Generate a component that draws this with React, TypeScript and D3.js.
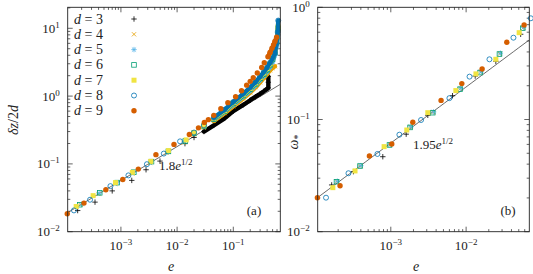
import React from 'react';
import * as d3 from 'd3';

const FONT = 'Liberation Serif, serif';

// series
const dims = [3, 4, 5, 6, 7, 8, 9];
const colors = ['#000000', '#E69F00', '#56B4E9', '#009E73', '#F0E442', '#0072B2', '#D55E00'];

// panel (a): scattered points at small e
const aSparseE = [
  [1.7e-4, 3.46e-4, 7e-4, 1.56e-3, 2.8e-3, 4.96e-3, 0.0138],
  [1.9e-4, 4e-4, 8e-4, 1.6e-3, 3.3e-3, 6.5e-3, 0.013],
  [2e-4, 4.1e-4, 8.3e-4, 1.65e-3, 3.4e-3, 6.8e-3, 0.0135],
  [1.85e-4, 4.2e-4, 8.6e-4, 1.7e-3, 3.5e-3, 7e-3, 0.014],
  [1.6e-4, 3.2e-4, 8e-4, 1.6e-3, 3.4e-3, 7e-3, 0.0145],
  [1.46e-4, 2.82e-4, 6.5e-4, 1.36e-3, 2.9e-3, 5.8e-3, 0.0113],
  [1.11e-4, 2.2e-4, 5.4e-4, 1.08e-3, 2.04e-3, 4.2e-3, 8.8e-3],
];
const aSparseZ = [
  [0.0205, 0.0273, 0.04, 0.0571, 0.082, 0.11, 0.199],
  [0.025, 0.036, 0.051, 0.072, 0.104, 0.145, 0.205],
  [0.0255, 0.037, 0.052, 0.074, 0.107, 0.15, 0.213],
  [0.025, 0.0375, 0.053, 0.0755, 0.108, 0.153, 0.218],
  [0.0235, 0.034, 0.053, 0.075, 0.109, 0.157, 0.226],
  [0.0206, 0.0296, 0.047, 0.0677, 0.099, 0.142, 0.215],
  [0.0184, 0.0264, 0.0416, 0.059, 0.0838, 0.137, 0.194],
];

// panel (a): dense points at large e (they merge into bands)
const aBandE = [
  [0.02, 0.03, 0.045, 0.07, 0.1, 0.15, 0.2, 0.25, 0.3, 0.35, 0.4, 0.42, 0.42, 0.42],
  [0.02, 0.03, 0.045, 0.07, 0.1, 0.15, 0.2, 0.25, 0.3, 0.35, 0.4, 0.45, 0.5, 0.55],
  [0.02, 0.03, 0.045, 0.07, 0.1, 0.15, 0.2, 0.25, 0.3, 0.35, 0.4, 0.45, 0.5, 0.55, 0.59, 0.62],
  [0.02, 0.03, 0.045, 0.07, 0.1, 0.15, 0.2, 0.25, 0.3, 0.35, 0.4, 0.45, 0.5, 0.55, 0.59, 0.625],
  [0.02, 0.03, 0.045, 0.07, 0.1, 0.15, 0.2, 0.25, 0.3, 0.35, 0.4, 0.45, 0.5, 0.55, 0.59, 0.625],
  [0.02, 0.03, 0.045, 0.07, 0.1, 0.15, 0.2, 0.25, 0.3, 0.35, 0.4, 0.45, 0.5, 0.55, 0.59, 0.617, 0.63],
  [0.0165, 0.024, 0.0305, 0.036, 0.045, 0.06, 0.08, 0.11, 0.14, 0.173, 0.2, 0.227, 0.267, 0.32, 0.356, 0.414, 0.45, 0.489, 0.52, 0.55, 0.59],
];
const aBandZ = [
  [0.245, 0.3, 0.37, 0.47, 0.6, 0.74, 0.87, 0.98, 1.08, 1.18, 1.28, 1.32, 1.6, 1.95],
  [0.27, 0.34, 0.43, 0.56, 0.71, 0.92, 1.13, 1.35, 1.6, 1.86, 2.12, 2.4, 2.6, 2.75],
  [0.28, 0.35, 0.45, 0.59, 0.75, 0.98, 1.2, 1.45, 1.72, 2.0, 2.3, 2.7, 3.2, 4.0, 5.5, 8.0],
  [0.285, 0.36, 0.46, 0.6, 0.78, 1.02, 1.26, 1.52, 1.82, 2.12, 2.45, 2.9, 3.5, 4.4, 6.3, 10],
  [0.29, 0.365, 0.47, 0.61, 0.8, 1.05, 1.3, 1.57, 1.88, 2.2, 2.55, 3.0, 3.65, 4.6, 6.6, 10.5],
  [0.29, 0.37, 0.48, 0.63, 0.82, 1.08, 1.34, 1.62, 1.94, 2.28, 2.65, 3.1, 3.6, 4.3, 6.0, 8.8, 13],
  [0.272, 0.34, 0.409, 0.449, 0.52, 0.652, 0.8, 0.98, 1.2, 1.45, 1.65, 1.86, 2.2, 2.65, 3.1, 3.8, 4.4, 5.1, 5.7, 6.4, 7.4],
];
// e from which the dense points of each series merge into a band
const aBandFrom = [0.03, 0.045, 0.045, 0.045, 0.045, 0.045, 0.4];

// panel (b)
const bE = [
  [1.64e-4, 3.19e-4, 7.83e-4, 1.6e-3, 3.1e-3, 6.6e-3, 0.0132, 0.0248, 0.053],
  [1.92e-4, 3.95e-4, 9.7e-4, 1.82e-3, 3.65e-3, 8.4e-3, 0.0155, 0.028, 0.057],
  [1.95e-4, 4e-4, 9.8e-4, 1.85e-3, 3.7e-3, 8.5e-3, 0.0158, 0.0285, 0.058],
  [1.9e-4, 3.9e-4, 9.6e-4, 1.8e-3, 3.6e-3, 8.3e-3, 0.0153, 0.0277, 0.0565],
  [1.7e-4, 3.35e-4, 8.15e-4, 1.63e-3, 3.1e-3, 7.3e-3, 0.0135, 0.0248, 0.0506],
  [1.38e-4, 2.74e-4, 6.64e-4, 1.3e-3, 2.52e-3, 6e-3, 0.0111, 0.0204, 0.0425, 0.0723],
  [1.06e-4, 2.12e-4, 5.2e-4, 1.03e-3, 1.96e-3, 4.65e-3, 8.77e-3, 0.0163, 0.0347, 0.0589],
];
const bW = [
  [0.0261, 0.0343, 0.0466, 0.074, 0.109, 0.163, 0.244, 0.33, 0.575],
  [0.028, 0.0384, 0.0595, 0.0855, 0.116, 0.188, 0.264, 0.385, 0.655],
  [0.0282, 0.0388, 0.0598, 0.086, 0.117, 0.19, 0.266, 0.39, 0.66],
  [0.0279, 0.0385, 0.0593, 0.085, 0.115, 0.186, 0.262, 0.383, 0.65],
  [0.0247, 0.0348, 0.0573, 0.0806, 0.115, 0.181, 0.255, 0.344, 0.594],
  [0.0201, 0.0332, 0.0493, 0.0732, 0.099, 0.155, 0.241, 0.344, 0.536, 0.798],
  [0.0201, 0.0257, 0.0473, 0.0605, 0.0944, 0.148, 0.209, 0.282, 0.488, 0.695],
];

const fitA = 1.8;
const fitB = 1.95;

function logTicks(domain: number[]) {
  const [lo, hi] = domain;
  const out: { v: number; n: number; major: boolean }[] = [];
  for (let n = Math.floor(Math.log10(lo)); n <= Math.ceil(Math.log10(hi)); n++) {
    for (let k = 1; k <= 9; k++) {
      const v = +`${k}e${n}`;
      if (v >= lo * 0.999 && v <= hi * 1.001) out.push({ v, n, major: k === 1 });
    }
  }
  return out;
}

function Marker({ kind, x, y, color }: { kind: number; x: number; y: number; color: string }) {
  const s = 2.7, t = 2.1;
  const plus = [<line key="h" x1={x - s} x2={x + s} y1={y} y2={y} />, <line key="v" x1={x} x2={x} y1={y - s} y2={y + s} />];
  const cross = [<line key="a" x1={x - t} y1={y - t} x2={x + t} y2={y + t} />, <line key="b" x1={x - t} y1={y + t} x2={x + t} y2={y - t} />];
  switch (kind) {
    case 0: return <g stroke={color} strokeWidth={0.8}>{plus}</g>;
    case 1: return <g stroke={color} strokeWidth={0.8}>{cross}</g>;
    case 2: return <g stroke={color} strokeWidth={0.8}>{plus}{cross}</g>;
    case 3: return <rect x={x - 2.3} y={y - 2.3} width={4.6} height={4.6} fill="none" stroke={color} strokeWidth={0.8} />;
    case 4: return <rect x={x - 2.5} y={y - 2.5} width={5} height={5} fill={color} />;
    case 5: return <circle cx={x} cy={y} r={2.5} fill="none" stroke={color} strokeWidth={0.8} />;
    default: return <circle cx={x} cy={y} r={2.7} fill={color} />;
  }
}

function Pow({ n }: { n: number }) {
  return <>10<tspan dy={-5} fontSize={9}>{n < 0 ? `\u2212${-n}` : `${n}`}</tspan></>;
}

type PanelProps = {
  id: string; x0: number; x1: number; y0: number; y1: number;
  xDomain: number[]; yDomain: number[];
  sparseE: number[][]; sparseY: number[][];
  bandE?: number[][]; bandY?: number[][]; bandFrom?: number[];
  fit: number; fitText: string; fitX: number; fitY: number;
  letter: string; letterX: number;
};

function Panel(p: PanelProps) {
  const x = d3.scaleLog().domain(p.xDomain).range([p.x0, p.x1]);
  const y = d3.scaleLog().domain(p.yDomain).range([p.y1, p.y0]);
  const xt = logTicks(p.xDomain);
  const yt = logTicks(p.yDomain);
  const line = d3.line<[number, number]>().x(d => x(d[0])).y(d => y(d[1]));
  const [lo, hi] = p.xDomain;
  const fitPts: [number, number][] = d3.range(0, 41).map(i => {
    const e = lo * Math.pow(hi / lo, i / 40);
    return [e, p.fit * Math.sqrt(e)];
  });
  const ax = '#222';
  return (
    <g>
      <defs>
        <clipPath id={`clip-${p.id}`}>
          <rect x={p.x0} y={p.y0} width={p.x1 - p.x0} height={p.y1 - p.y0} />
        </clipPath>
      </defs>
      {/* ticks */}
      <g stroke={ax} strokeWidth={0.7}>
        {xt.map((t, i) => {
          const L = t.major ? 5 : 2.6;
          const px = x(t.v);
          return <g key={'x' + i}><line x1={px} x2={px} y1={p.y1} y2={p.y1 - L} /><line x1={px} x2={px} y1={p.y0} y2={p.y0 + L} /></g>;
        })}
        {yt.map((t, i) => {
          const L = t.major ? 5 : 2.6;
          const py = y(t.v);
          return <g key={'y' + i}><line x1={p.x0} x2={p.x0 + L} y1={py} y2={py} /><line x1={p.x1} x2={p.x1 - L} y1={py} y2={py} /></g>;
        })}
      </g>
      {/* tick labels */}
      <g fontFamily={FONT} fontSize={13} fill="#222">
        {xt.filter(t => t.major).map((t, i) => (
          <text key={'xl' + i} x={x(t.v)} y={p.y1 + 18} textAnchor="middle"><Pow n={t.n} /></text>
        ))}
        {yt.filter(t => t.major).map((t, i) => (
          <text key={'yl' + i} x={p.x0 - 8} y={y(t.v) + 4.5} textAnchor="end"><Pow n={t.n} /></text>
        ))}
      </g>
      {/* fit */}
      <path d={line(fitPts) || ''} fill="none" stroke="#444" strokeWidth={0.8} clipPath={`url(#clip-${p.id})`} />
      {/* data */}
      {dims.map((dd, s) => {
        const pts: [number, number][] = p.sparseE[s].map((e, i) => [e, p.sparseY[s][i]]);
        const band: [number, number][] = p.bandE ? p.bandE[s].map((e, i) => [e, p.bandY![s][i]]) : [];
        const bandLine = band.filter(d => d[0] >= (p.bandFrom ? p.bandFrom[s] : 1));
        return (
          <g key={dd}>
            {bandLine.length > 1 && (
              <path d={line(bandLine) || ''} fill="none" stroke={colors[s]} strokeWidth={4.4}
                strokeLinejoin="round" strokeLinecap="round" clipPath={`url(#clip-${p.id})`} />
            )}
            {pts.concat(band).map((d, i) => (
              <Marker key={i} kind={s} x={x(d[0])} y={y(d[1])} color={colors[s]} />
            ))}
          </g>
        );
      })}
      {/* frame */}
      <rect x={p.x0} y={p.y0} width={p.x1 - p.x0} height={p.y1 - p.y0} fill="none" stroke={ax} strokeWidth={0.9} />
      <text x={p.fitX} y={p.fitY} fontFamily={FONT} fontSize={13} fill="#222">
        {p.fitText}<tspan fontStyle="italic">e</tspan><tspan dy={-5} fontSize={9}>1/2</tspan>
      </text>
      <text x={p.letterX} y={215} fontFamily={FONT} fontSize={13} fill="#222" textAnchor="middle">{p.letter}</text>
    </g>
  );
}

export default function App() {
  return (
    <svg width={533} height={274} style={{ position: 'absolute', left: 0, top: 0, background: '#fff' }}>
      <rect width={533} height={274} fill="#fff" />
      <Panel id="a" x0={67.7} x1={280.3} y0={7.3} y1={231.7}
        xDomain={[1.13e-4, 0.686]} yDomain={[0.01, 20.4]}
        sparseE={aSparseE} sparseY={aSparseZ} bandE={aBandE} bandY={aBandZ} bandFrom={aBandFrom}
        fit={fitA} fitText="1.8" fitX={159} fitY={170} letter="(a)" letterX={254} />
      <Panel id="b" x0={317.7} x1={529.3} y0={7.3} y1={231.7}
        xDomain={[1.07e-4, 0.069]} yDomain={[0.01, 1]}
        sparseE={bE} sparseY={bW}
        fit={fitB} fitText="1.95" fitX={413} fitY={149} letter="(b)" letterX={508} />
      {/* legend */}
      <g fontFamily={FONT} fontSize={14} fill="#222">
        {dims.map((dd, s) => {
          const ly = 19 + 15.3 * s;
          return (
            <g key={dd}>
              <text x={74} y={ly + 4.5}><tspan fontStyle="italic">d</tspan> = {dd}</text>
              <Marker kind={s} x={134} y={ly} color={colors[s]} />
            </g>
          );
        })}
      </g>
      {/* axis titles */}
      <g fontFamily={FONT} fontSize={14} fill="#222">
        <text transform="translate(18,120) rotate(-90)" textAnchor="middle">
          <tspan fontStyle="italic">δz</tspan>/2<tspan fontStyle="italic">d</tspan>
        </text>
        <text transform="translate(298,142) rotate(-90)" textAnchor="middle">
          <tspan fontStyle="italic">ω</tspan><tspan dy={3} fontSize={10}>*</tspan>
        </text>
        <text x={171} y={271} fontStyle="italic" textAnchor="middle">e</text>
        <text x={416} y={271} fontStyle="italic" textAnchor="middle">e</text>
      </g>
    </svg>
  );
}
